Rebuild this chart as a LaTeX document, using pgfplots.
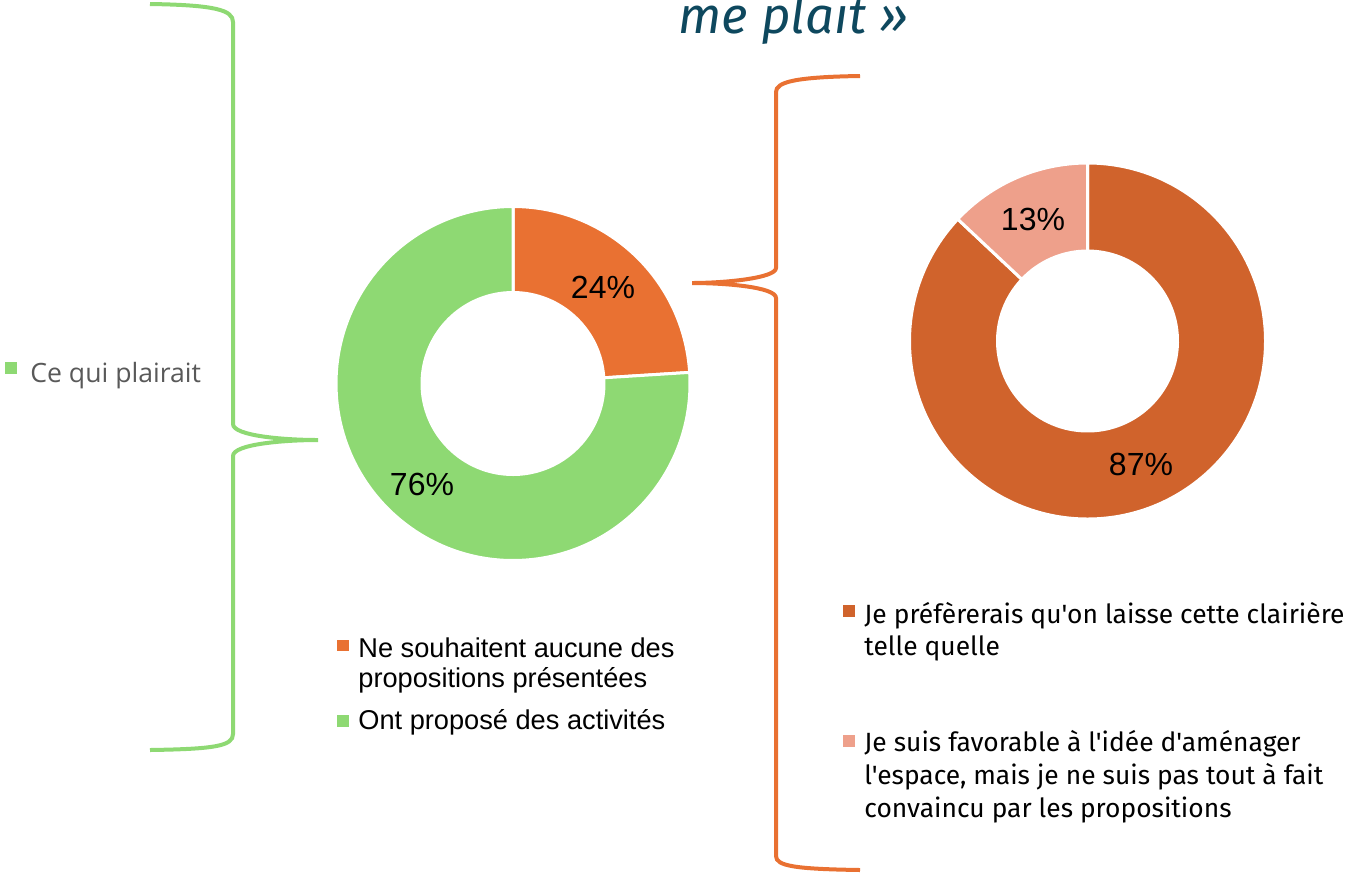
\documentclass[border=0pt]{standalone}
\usepackage{pgfplots}
\pgfplotsset{compat=1.18}
\usetikzlibrary{calc}
\usepackage{fontspec}
\setmainfont{Liberation Sans}
\newfontfamily\fira{Fira Sans}
\newfontfamily\opens{Open Sans}

\definecolor{orL}{RGB}{233,113,50}
\definecolor{grL}{RGB}{142,217,115}
\definecolor{orD}{RGB}{208,99,44}
\definecolor{salm}{RGB}{238,160,139}
\definecolor{titc}{RGB}{14,72,94}
\definecolor{grayt}{RGB}{89,89,89}

% donut slice: centre x, centre y, from %, to %, colour, outer r, inner r
\newcommand{\slice}[7]{%
  \fill[#5, draw=white, line width=1.5pt]
    ($(axis cs:#1,#2)+({90-3.6*#3}:#6)$) arc[start angle={90-3.6*#3}, end angle={90-3.6*#4}, radius=#6]
    -- ($(axis cs:#1,#2)+({90-3.6*#4}:#7)$) arc[start angle={90-3.6*#4}, end angle={90-3.6*#3}, radius=#7]
    -- cycle;}

\begin{document}
\begin{tikzpicture}
\begin{axis}[
    at={(0,0)}, anchor=south west,
    scale only axis, width=674pt, height=437pt,
    xmin=0, xmax=1348, ymin=0, ymax=874, y dir=reverse,
    hide axis, clip=false,
]
% left donut: 24 / 76
\slice{513}{383.5}{0}{24}{orL}{88.5pt}{45.5pt}
\slice{513}{383.5}{24}{100}{grL}{88.5pt}{45.5pt}
% right donut: 87 / 13
\slice{1087.5}{341}{0}{87}{orD}{89pt}{45pt}
\slice{1087.5}{341}{87}{100}{salm}{89pt}{45pt}

\node[font=\fontsize{16}{18}\selectfont] at (axis cs:603,287) {24\%};
\node[font=\fontsize{16}{18}\selectfont] at (axis cs:422,484) {76\%};
\node[font=\fontsize{16}{18}\selectfont] at (axis cs:1033,219) {13\%};
\node[font=\fontsize{16}{18}\selectfont] at (axis cs:1141,464) {87\%};

% braces
\draw[grL, line width=2pt]
  (axis cs:150,4) .. controls (axis cs:215,5) and (axis cs:233,10) .. (axis cs:233,22)
  -- (axis cs:233,424) .. controls (axis cs:233,436) and (axis cs:285,440) .. (axis cs:318,440)
  .. controls (axis cs:285,440) and (axis cs:233,444) .. (axis cs:233,456)
  -- (axis cs:233,734) .. controls (axis cs:233,746) and (axis cs:215,749) .. (axis cs:150,750);
\draw[orL, line width=2pt]
  (axis cs:860,76) .. controls (axis cs:795,77) and (axis cs:776,82) .. (axis cs:776,92)
  -- (axis cs:776,268) .. controls (axis cs:776,278) and (axis cs:725,283) .. (axis cs:692,283)
  .. controls (axis cs:725,283) and (axis cs:776,287) .. (axis cs:776,298)
  -- (axis cs:776,856) .. controls (axis cs:776,866) and (axis cs:795,869) .. (axis cs:860,870);

% title fragment
\node[anchor=base west, text=titc, inner sep=0pt, font=\fira\itshape\fontsize{25.5}{30}\selectfont] at (axis cs:678,33) {me plait »};

% left series label
\fill[grL] (axis cs:5,362) rectangle (axis cs:17,374);
\node[anchor=base west, text=grayt, inner sep=0pt, font=\opens\fontsize{13.3}{15}\selectfont] at (axis cs:30,382) {Ce qui plairait};

% left legend
\fill[orL] (axis cs:337,640) rectangle (axis cs:349,651);
\fill[grL] (axis cs:337,715) rectangle (axis cs:349,727);
\begin{scope}[every node/.style={anchor=base west, inner sep=0pt, font=\fontsize{13.6}{15}\selectfont}]
\node at (axis cs:358,657) {Ne souhaitent aucune des};
\node at (axis cs:358,687) {propositions présentées};
\node at (axis cs:358,729) {Ont proposé des activités};
\end{scope}

% right legend
\fill[orD] (axis cs:843,605) rectangle (axis cs:855,617);
\fill[salm] (axis cs:843,735) rectangle (axis cs:855,747);
\begin{scope}[every node/.style={anchor=base west, inner sep=0pt, font=\fira\fontsize{13.2}{15}\selectfont}]
\node at (axis cs:864,623) {Je préfèrerais qu'on laisse cette clairière};
\node at (axis cs:864,655) {telle quelle};
\node at (axis cs:864,751) {Je suis favorable à l'idée d'aménager};
\node at (axis cs:864,784) {l'espace, mais je ne suis pas tout à fait};
\node at (axis cs:864,817) {convaincu par les propositions};
\end{scope}
\end{axis}
\pgfresetboundingbox
\path[use as bounding box] (0,0) rectangle (674pt,437pt);
\end{tikzpicture}
\end{document}
